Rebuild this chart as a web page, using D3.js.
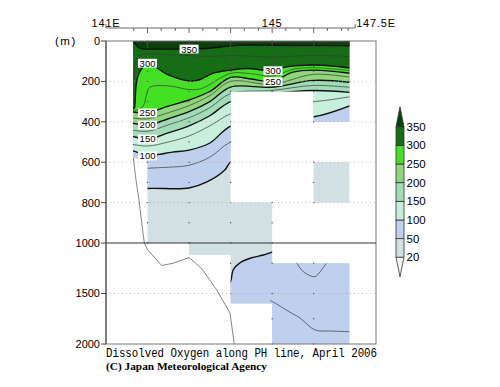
<!DOCTYPE html>
<html>
<head>
<meta charset="utf-8">
<script src="https://cdn.jsdelivr.net/npm/d3@7"></script>
<style>
    body { margin: 0; background: #fff; }
    svg { display: block; }
    text { font-family: "Liberation Sans", Arial, sans-serif; }
</style>
</head>
<body>
<script>
// Colour levels (umol/kg) and band colours: <20, 20-50, ..., >350
var levels = [20, 50, 100, 150, 200, 250, 300, 350];
var bandColors = ['#f2f6f2', '#d2e0e3', '#bfcfee', '#c8efdc', '#a2dcb6', '#8fd67c', '#44e024', '#166d16', '#0a400a'];

// Axis values
var depthTicks = [0, 200, 400, 600, 800, 1000, 1500, 2000];
var gridDepths = [200, 400, 600, 800, 1500];
var lonLabelValues = [141, 145, 147.5];
var lonLabelText = ['141E', '145', '147.5E'];
var lonMajorTicks = [142, 143, 144, 145, 146];
var lonMinorTicks = [141.67, 142.33, 142.67, 143.33, 143.67, 144.33, 144.67, 145.33, 145.67, 146.33, 146.67, 146.83];

// Where there are observations: [lon0, lon1, depth0, depth1]
var maskBoxes = [
    [141.65, 142.0, 0, 580],
    [142.0, 143.0, 0, 1000],
    [143.0, 144.0, 0, 1120],
    [144.0, 146.86, 0, 250],
    [144.0, 145.0, 800, 1600],
    [145.0, 146.86, 1200, 2000],
    [146.0, 146.86, 250, 400],
    [146.0, 146.86, 600, 800]
];
var stationLons = [142, 143, 144, 145, 146];
var obsDepths = [0, 10, 20, 30, 50, 75, 100, 125, 150, 200, 250, 300, 400, 500, 600, 700, 800, 900, 1000, 1200, 1500, 1750, 2000];

// Isolines in the upper layer, [lon, depth]
var oxy50 = [[141.6, 740], [142.0, 730], [143.0, 728], [143.43, 698], [143.86, 639], [144.0, 599], [144.5, 560], [145.0, 550], [146.0, 520], [146.9, 520]];
var oxy75 = [[141.6, 640], [142.0, 630], [142.5, 625], [143.0, 615], [143.5, 575], [144.0, 500], [145.0, 450], [146.0, 440], [146.9, 420]];
var oxy100 = [[141.6, 545], [141.67, 545], [142.0, 569], [142.25, 562], [142.6, 550], [143.0, 540], [143.5, 505], [144.0, 421], [145.0, 380], [146.0, 375], [146.9, 318]];
var oxy125 = [[141.6, 510], [142.0, 520], [142.5, 500], [143.0, 470], [143.5, 420], [144.0, 360], [145.0, 300], [146.0, 300], [146.9, 275]];
var oxy150 = [[141.6, 470], [142.0, 485], [142.5, 455], [143.0, 420], [143.5, 370], [144.0, 300], [145.0, 262], [146.0, 245], [146.9, 255]];
var oxy175 = [[141.6, 440], [142.0, 447], [142.5, 415], [143.0, 380], [143.5, 330], [144.0, 260], [145.0, 245], [146.0, 220], [146.9, 230]];
var oxy200 = [[141.6, 405], [142.0, 416], [142.5, 385], [143.0, 350], [143.5, 300], [144.0, 228], [145.0, 229], [146.0, 195], [146.9, 205]];
var oxy225 = [[141.6, 380], [142.0, 385], [142.5, 355], [143.0, 320], [143.5, 270], [144.0, 200], [145.0, 214], [146.0, 165], [146.9, 180]];
var oxy250 = [[141.6, 350], [142.0, 356], [142.5, 322], [143.0, 292], [143.5, 250], [144.0, 180], [144.5, 188], [145.0, 201], [145.5, 154], [146.0, 144], [146.9, 160]];
var oxy275 = [[141.6, 342], [141.75, 342], [141.9, 320], [141.97, 270], [142.05, 230], [142.5, 222], [143.0, 240], [143.3, 235], [144.0, 160], [144.5, 162], [145.0, 174], [145.5, 140], [146.0, 132], [146.9, 147]];
var oxy300 = [[141.6, 335], [141.68, 332], [141.7, 300], [141.72, 230], [141.76, 180], [141.85, 140], [142.0, 112], [142.5, 168], [143.0, 198], [143.25, 192], [143.6, 158], [144.0, 144], [144.4, 136], [144.8, 145], [145.0, 147], [145.35, 128], [146.0, 119], [146.5, 125], [146.9, 134]];
var oxy325 = [[141.6, 200], [141.67, 190], [141.7, 110], [141.78, 75], [141.9, 65], [142.0, 62], [142.5, 68], [143.0, 72], [143.5, 76], [144.0, 72], [144.5, 75], [145.0, 80], [145.5, 75], [146.0, 72], [146.9, 76]];
var oxy350 = [[141.6, 5], [141.7, 12], [141.78, 32], [141.9, 40], [142.0, 40], [142.5, 40], [143.0, 40], [143.5, 36], [144.0, 24], [144.5, 20], [145.0, 21], [145.5, 22], [146.0, 22], [146.9, 24]];
var oxy375 = [[141.6, 2], [141.8, 8], [142.0, 10], [143.0, 12], [144.0, 8], [145.0, 8], [146.0, 9], [146.9, 10]];

// Isolines in the deep layer
var deep50 = [[143.95, 1420], [144.01, 1366], [144.06, 1267], [144.23, 1195], [144.47, 1151], [144.79, 1119], [145.03, 1086], [145.3, 1060], [146.9, 1060]];
var deep75a = [[145.5, 1190], [145.59, 1200], [145.67, 1247], [145.79, 1297], [146.03, 1333], [146.15, 1287], [146.31, 1200], [146.36, 1180]];
var deep75b = [[144.95, 1570], [145.01, 1581], [145.42, 1683], [145.67, 1743], [146.03, 1861], [146.39, 1871], [146.86, 1878], [147.0, 1879]];

// Sea bottom
var bottomLine = [[141.657, 579], [141.722, 688], [141.794, 787], [141.867, 911], [141.922, 1000], [142.004, 1069], [142.341, 1223], [142.62, 1200], [143.005, 1144], [143.311, 1257], [143.665, 1465], [143.985, 1693], [144.089, 2000]];

// Contour labels [lon, depth, text]
var contourLabels = [[143.0, 40, '350'], [142.0, 110, '300'], [142.0, 356, '250'], [142.0, 416, '200'], [142.0, 485, '150'], [142.0, 569, '100'], [145.02, 147, '300'], [145.02, 201, '250']];

(function () {
    var width = 500,
        height = 387,
        plotLeft = 106,
        plotRight = 376,
        plotTop = 41,
        breakY = 243,
        plotBottom = 344;

    var x = d3.scaleLinear().domain([141, 147.5]).range([plotLeft, plotRight]);
    // Two panels: 0-1000 m stretched, 1000-2000 m compressed
    var y = d3.scaleLinear().domain([0, 1000, 2000]).range([plotTop, breakY, plotBottom]);

    var svg = d3.select('body').append('svg')
        .attr('width', width)
        .attr('height', height);

    // Clip to observed area
    svg.append('defs').append('clipPath')
        .attr('id', 'dataMask')
        .selectAll('rect')
        .data(maskBoxes)
        .enter()
        .append('rect')
        .attr('x', function (d) { return x(d[0]); })
        .attr('y', function (d) { return y(d[2]); })
        .attr('width', function (d) { return x(d[1]) - x(d[0]); })
        .attr('height', function (d) { return y(d[3]) - y(d[2]); });

    var line = d3.line().curve(d3.curveCatmullRom.alpha(0.5));

    function toPx(pts) {
        return pts.map(function (d) { return [x(d[0]), y(d[1])]; });
    }

    function fillAbove(pts) {
        var p = toPx(pts), top = plotTop - 10;
        return line(p) + 'L' + p[p.length - 1][0] + ',' + top + 'L' + p[0][0] + ',' + top + 'Z';
    }

    function fillBelow(pts) {
        var p = toPx(pts), bot = plotBottom + 10;
        return line(p) + 'L' + p[p.length - 1][0] + ',' + bot + 'L' + p[0][0] + ',' + bot + 'Z';
    }

    function colorOver(level) {
        return bandColors[levels.indexOf(level) + 1];
    }

    var shade = svg.append('g').attr('clip-path', 'url(#dataMask)');

    // Base: 20-50 everywhere observed
    shade.append('rect')
        .attr('x', plotLeft).attr('y', plotTop)
        .attr('width', plotRight - plotLeft).attr('height', plotBottom - plotTop)
        .style('fill', colorOver(20));

    var upperFills = [[50, oxy50], [100, oxy100], [150, oxy150], [200, oxy200], [250, oxy250], [300, oxy300], [350, oxy350]];
    shade.selectAll('.fillUp')
        .data(upperFills)
        .enter()
        .append('path')
        .attr('class', 'fillUp')
        .attr('d', function (d) { return fillAbove(d[1]); })
        .style('fill', function (d) { return colorOver(d[0]); });

    shade.append('path')
        .attr('d', fillBelow(deep50))
        .style('fill', colorOver(50));

    // Contour lines: multiples of 50 thick, others thin
    var isolines = [[50, oxy50], [75, oxy75], [100, oxy100], [125, oxy125], [150, oxy150], [175, oxy175], [200, oxy200],
        [225, oxy225], [250, oxy250], [275, oxy275], [300, oxy300], [325, oxy325], [350, oxy350], [375, oxy375],
        [50, deep50], [75, deep75a], [75, deep75b]];
    shade.selectAll('.isoline')
        .data(isolines)
        .enter()
        .append('path')
        .attr('class', 'isoline')
        .attr('d', function (d) { return line(toPx(d[1])); })
        .style('fill', 'none')
        .style('stroke', function (d) { return d[0] % 50 === 0 ? '#111' : '#3a3a3a'; })
        .style('stroke-width', function (d) { return d[0] % 50 === 0 ? 1.4 : 0.7; });

    // Observation points
    var obs = [];
    stationLons.forEach(function (lon) {
        obsDepths.forEach(function (dep) {
            var inside = maskBoxes.some(function (b) {
                return lon >= b[0] && lon <= b[1] && dep >= b[2] && dep <= b[3];
            });
            if (inside) obs.push([lon, dep]);
        });
    });
    svg.selectAll('.obs')
        .data(obs)
        .enter()
        .append('circle')
        .attr('class', 'obs')
        .attr('cx', function (d) { return x(d[0]); })
        .attr('cy', function (d) { return y(d[1]); })
        .attr('r', 0.7)
        .style('fill', '#555');

    // Dotted depth grid
    svg.selectAll('.grid')
        .data(gridDepths)
        .enter()
        .append('line')
        .attr('class', 'grid')
        .attr('x1', plotLeft).attr('x2', plotRight)
        .attr('y1', function (d) { return y(d); })
        .attr('y2', function (d) { return y(d); })
        .style('stroke', '#aaa')
        .style('stroke-width', 0.8)
        .style('stroke-dasharray', '1,3');

    // Sea bottom
    svg.append('path')
        .attr('d', d3.line()(toPx(bottomLine)))
        .style('fill', 'none')
        .style('stroke', '#666')
        .style('stroke-width', 0.8);

    // Contour labels on white boxes
    var labs = svg.selectAll('.clab')
        .data(contourLabels)
        .enter()
        .append('g')
        .attr('class', 'clab')
        .attr('transform', function (d) { return 'translate(' + x(d[0]) + ',' + y(d[1]) + ')'; });
    labs.append('rect')
        .attr('x', -9.5).attr('y', -4.4)
        .attr('width', 19).attr('height', 8.8)
        .style('fill', '#fff');
    labs.append('text')
        .attr('text-anchor', 'middle')
        .attr('dy', '0.36em')
        .style('font-size', '9.5px')
        .text(function (d) { return d[2]; });

    // Frame and 1000 m break
    svg.append('rect')
        .attr('x', plotLeft).attr('y', plotTop)
        .attr('width', plotRight - plotLeft).attr('height', plotBottom - plotTop)
        .style('fill', 'none')
        .style('stroke', '#777')
        .style('stroke-width', 1);
    svg.append('line')
        .attr('x1', plotLeft).attr('x2', plotRight)
        .attr('y1', y(1000)).attr('y2', y(1000))
        .style('stroke', '#333')
        .style('stroke-width', 1.2);
    svg.append('line')
        .attr('x1', plotLeft).attr('x2', plotLeft)
        .attr('y1', plotTop).attr('y2', plotBottom)
        .style('stroke', '#444');

    // Depth axis
    var yAxis = svg.append('g').attr('class', 'yaxis');
    yAxis.selectAll('line')
        .data(depthTicks)
        .enter()
        .append('line')
        .attr('x1', plotLeft - 5).attr('x2', plotLeft)
        .attr('y1', function (d) { return y(d); })
        .attr('y2', function (d) { return y(d); })
        .style('stroke', '#444');
    yAxis.selectAll('text')
        .data(depthTicks)
        .enter()
        .append('text')
        .attr('x', plotLeft - 6)
        .attr('y', function (d) { return y(d); })
        .attr('dy', '0.36em')
        .attr('text-anchor', 'end')
        .style('font-size', '11px')
        .text(function (d) { return d; });
    svg.append('text')
        .attr('x', 55).attr('y', y(0))
        .attr('dy', '0.36em')
        .style('font-size', '11.5px')
        .style('letter-spacing', '1.5px')
        .text('(m)');

    // Longitude axis on top
    var axisY = 28;
    var xAxis = svg.append('g').attr('class', 'xaxis');
    xAxis.append('line')
        .attr('x1', x(141)).attr('x2', x(147))
        .attr('y1', axisY).attr('y2', axisY)
        .style('stroke', '#666');
    xAxis.selectAll('.major')
        .data(lonMajorTicks)
        .enter()
        .append('line')
        .attr('class', 'major')
        .attr('x1', function (d) { return x(d); })
        .attr('x2', function (d) { return x(d); })
        .attr('y1', axisY).attr('y2', axisY + 5)
        .style('stroke', '#666');
    xAxis.selectAll('.minor')
        .data(lonMinorTicks)
        .enter()
        .append('line')
        .attr('class', 'minor')
        .attr('x1', function (d) { return x(d); })
        .attr('x2', function (d) { return x(d); })
        .attr('y1', axisY).attr('y2', axisY + 3)
        .style('stroke', '#666');
    xAxis.selectAll('.ends')
        .data([141, 147])
        .enter()
        .append('line')
        .attr('class', 'ends')
        .attr('x1', function (d) { return x(d); })
        .attr('x2', function (d) { return x(d); })
        .attr('y1', axisY - 4).attr('y2', axisY)
        .style('stroke', '#666');
    xAxis.selectAll('text')
        .data(lonLabelValues)
        .enter()
        .append('text')
        .attr('x', function (d) { return x(d); })
        .attr('y', axisY - 1)
        .attr('text-anchor', 'middle')
        .style('font-size', '11px')
        .style('letter-spacing', '0.8px')
        .text(function (d, i) { return lonLabelText[i]; });

    // Colour bar
    var barX = 396, barW = 8;
    var yL = d3.scaleLinear().domain([0, levels.length - 1]).range([257.3, 126.7]);
    var bar = svg.append('g').attr('class', 'legend');
    bar.selectAll('rect')
        .data(levels.slice(0, -1))
        .enter()
        .append('rect')
        .attr('x', barX)
        .attr('y', function (d, i) { return yL(i + 1); })
        .attr('width', barW)
        .attr('height', function (d, i) { return yL(i) - yL(i + 1); })
        .style('fill', function (d, i) { return bandColors[i + 1]; })
        .style('stroke', '#333')
        .style('stroke-width', 0.8);
    var top = yL(levels.length - 1), bot = yL(0);
    bar.append('path')
        .attr('d', 'M' + barX + ',' + top + 'L' + (barX + barW / 2) + ',' + (top - 20) + 'L' + (barX + barW) + ',' + top + 'Z')
        .style('fill', bandColors[bandColors.length - 1])
        .style('stroke', '#333')
        .style('stroke-width', 0.8);
    bar.append('path')
        .attr('d', 'M' + barX + ',' + bot + 'L' + (barX + barW / 2) + ',' + (bot + 19.5) + 'L' + (barX + barW) + ',' + bot + 'Z')
        .style('fill', bandColors[0])
        .style('stroke', '#333')
        .style('stroke-width', 0.8);
    bar.selectAll('text')
        .data(levels)
        .enter()
        .append('text')
        .attr('x', barX + barW + 2.5)
        .attr('y', function (d, i) { return yL(i); })
        .attr('dy', '0.36em')
        .style('font-size', '11.5px')
        .text(function (d) { return d; });

    // Titles
    svg.append('text')
        .attr('x', plotLeft).attr('y', 357)
        .attr('textLength', 271)
        .attr('lengthAdjust', 'spacingAndGlyphs')
        .style('font-family', '"Liberation Mono", monospace')
        .style('font-size', '12.5px')
        .text('Dissolved Oxygen along PH line, April 2006');
    svg.append('text')
        .attr('x', plotLeft).attr('y', 369.5)
        .attr('textLength', 161)
        .attr('lengthAdjust', 'spacingAndGlyphs')
        .style('font-family', '"Liberation Serif", serif')
        .style('font-weight', 'bold')
        .style('font-size', '11px')
        .text('(C) Japan Meteorological Agency');
})();
</script>
</body>
</html>
